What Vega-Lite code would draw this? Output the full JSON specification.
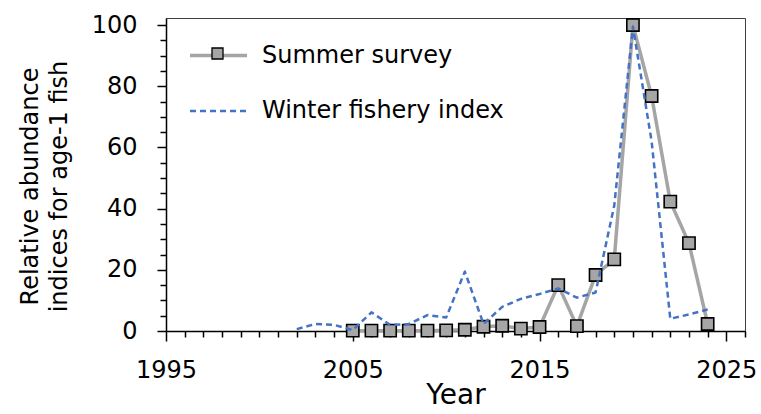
{
  "$schema": "https://vega.github.io/schema/vega-lite/v6.json",
  "width": 579,
  "height": 313,
  "autosize": {"type": "none"},
  "padding": {"left": 166, "top": 18, "right": 16, "bottom": 83},
  "background": "white",
  "config": {
    "font": "DejaVu Sans",
    "view": {"stroke": "#404040", "strokeWidth": 1},
    "axis": {
      "domainColor": "black",
      "domainWidth": 1.5,
      "tickColor": "black",
      "tickWidth": 1.5,
      "labelFont": "DejaVu Sans",
      "labelFontSize": 24,
      "labelColor": "black",
      "titleFont": "DejaVu Sans",
      "titleColor": "black",
      "titleFontWeight": "normal",
      "grid": false
    },
    "legend": {"labelFont": "DejaVu Sans", "labelColor": "black"}
  },
  "data": {
    "values": [
      {"year": 2005, "value": 0.1, "series": "Summer survey"},
      {"year": 2006, "value": 0.1, "series": "Summer survey"},
      {"year": 2007, "value": 0.1, "series": "Summer survey"},
      {"year": 2008, "value": 0.1, "series": "Summer survey"},
      {"year": 2009, "value": 0.1, "series": "Summer survey"},
      {"year": 2010, "value": 0.2, "series": "Summer survey"},
      {"year": 2011, "value": 0.4, "series": "Summer survey"},
      {"year": 2012, "value": 1.4, "series": "Summer survey"},
      {"year": 2013, "value": 1.7, "series": "Summer survey"},
      {"year": 2014, "value": 0.8, "series": "Summer survey"},
      {"year": 2015, "value": 1.3, "series": "Summer survey"},
      {"year": 2016, "value": 15.0, "series": "Summer survey"},
      {"year": 2017, "value": 1.6, "series": "Summer survey"},
      {"year": 2018, "value": 18.3, "series": "Summer survey"},
      {"year": 2019, "value": 23.4, "series": "Summer survey"},
      {"year": 2020, "value": 100, "series": "Summer survey"},
      {"year": 2021, "value": 76.8, "series": "Summer survey"},
      {"year": 2022, "value": 42.3, "series": "Summer survey"},
      {"year": 2023, "value": 28.7, "series": "Summer survey"},
      {"year": 2024, "value": 2.3, "series": "Summer survey"},
      {"year": 2002, "value": 0.6, "series": "Winter fishery index"},
      {"year": 2003, "value": 2.3, "series": "Winter fishery index"},
      {"year": 2004, "value": 2.0, "series": "Winter fishery index"},
      {"year": 2005, "value": 0.3, "series": "Winter fishery index"},
      {"year": 2006, "value": 6.1, "series": "Winter fishery index"},
      {"year": 2007, "value": 2.0, "series": "Winter fishery index"},
      {"year": 2008, "value": 2.3, "series": "Winter fishery index"},
      {"year": 2009, "value": 5.2, "series": "Winter fishery index"},
      {"year": 2010, "value": 4.4, "series": "Winter fishery index"},
      {"year": 2011, "value": 19.4, "series": "Winter fishery index"},
      {"year": 2012, "value": 2.3, "series": "Winter fishery index"},
      {"year": 2013, "value": 7.9, "series": "Winter fishery index"},
      {"year": 2014, "value": 10.5, "series": "Winter fishery index"},
      {"year": 2015, "value": 12.1, "series": "Winter fishery index"},
      {"year": 2016, "value": 13.9, "series": "Winter fishery index"},
      {"year": 2017, "value": 10.9, "series": "Winter fishery index"},
      {"year": 2018, "value": 12.6, "series": "Winter fishery index"},
      {"year": 2019, "value": 41, "series": "Winter fishery index"},
      {"year": 2020, "value": 99.5, "series": "Winter fishery index"},
      {"year": 2021, "value": 62, "series": "Winter fishery index"},
      {"year": 2022, "value": 4.0, "series": "Winter fishery index"},
      {"year": 2023, "value": 5.4, "series": "Winter fishery index"},
      {"year": 2024, "value": 7.0, "series": "Winter fishery index"}
    ]
  },
  "encoding": {
    "x": {
      "field": "year",
      "type": "quantitative",
      "scale": {"domain": [1995, 2026], "nice": false, "zero": false},
      "axis": {
        "title": "Year",
        "titleFontSize": 28,
        "titleBaseline": "alphabetic",
        "titleY": 72,
        "values": [1995,1996,1997,1998,1999,2000,2001,2002,2003,2004,2005,2006,2007,2008,2009,2010,2011,2012,2013,2014,2015,2016,2017,2018,2019,2020,2021,2022,2023,2024,2025,2026],
        "format": "d",
        "labelExpr": "datum.value % 10 === 5 ? datum.label : ''",
        "labelFlush": false,
        "labelOverlap": false,
        "labelBaseline": "top",
        "labelPadding": 17,
        "tickSize": {"condition": {"test": "datum.value % 10 === 5", "value": 10}, "value": 6}
      }
    },
    "y": {
      "field": "value",
      "type": "quantitative",
      "scale": {"domain": [0, 102.3], "nice": false},
      "axis": {
        "title": ["Relative abundance", "indices for age-1 fish"],
        "titleFontSize": 24,
        "titleAngle": -90,
        "titleAlign": "center",
        "titleBaseline": "alphabetic",
        "titleLineHeight": 29.5,
        "titleX": -129,
        "titleY": 168,
        "values": [0,5,10,15,20,25,30,35,40,45,50,55,60,65,70,75,80,85,90,95,100],
        "labelExpr": "datum.value % 20 === 0 ? datum.label : ''",
        "labelPadding": 20,
        "tickSize": {"condition": {"test": "datum.value % 20 === 0", "value": 9}, "value": 6}
      }
    }
  },
  "layer": [
    {
      "transform": [{"filter": "datum.series === 'Summer survey'"}],
      "mark": {"type": "line", "strokeJoin": "round"},
      "encoding": {
        "stroke": {
          "field": "series", "type": "nominal",
          "scale": {"domain": ["Summer survey", "Winter fishery index"], "range": ["#a5a5a5", "#4472c4"]},
          "legend": {
            "orient": "none", "legendX": 22, "legendY": 7, "title": null,
            "labelFontSize": 24, "labelLimit": 0, "symbolType": "stroke", "symbolSize": 3249,
            "labelOffset": 13, "rowPadding": 13
          }
        },
        "strokeDash": {
          "field": "series", "type": "nominal",
          "scale": {"domain": ["Summer survey", "Winter fishery index"], "range": [[1, 0], [6, 4]]}
        },
        "strokeWidth": {
          "field": "series", "type": "nominal",
          "scale": {"domain": ["Summer survey", "Winter fishery index"], "range": [3.5, 2.5]}
        }
      }
    },
    {
      "transform": [{"filter": "datum.series === 'Summer survey'"}],
      "mark": {"type": "point", "shape": "square", "size": 150, "filled": true, "stroke": "black", "strokeWidth": 1.6, "opacity": 1},
      "encoding": {
        "fill": {
          "field": "series", "type": "nominal",
          "scale": {"domain": ["Summer survey"], "range": ["#a6a6a6"]},
          "legend": {
            "orient": "none", "legendX": 45, "legendY": 29, "title": null,
            "labelExpr": "''", "symbolType": "square", "symbolSize": 121,
            "symbolStrokeColor": "black", "symbolStrokeWidth": 1.3, "symbolFillColor": "#a6a6a6"
          }
        }
      }
    },
    {
      "transform": [{"filter": "datum.series === 'Winter fishery index'"}],
      "mark": {"type": "line", "strokeJoin": "round"},
      "encoding": {
        "stroke": {"field": "series", "type": "nominal"},
        "strokeDash": {"field": "series", "type": "nominal"},
        "strokeWidth": {"field": "series", "type": "nominal"}
      }
    }
  ]
}
